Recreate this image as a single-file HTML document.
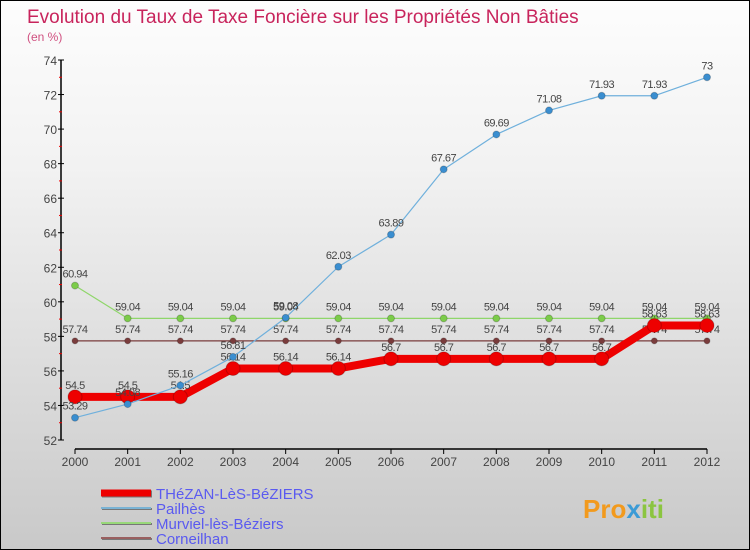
<!DOCTYPE html>
<html><head><meta charset="utf-8"><style>
body{margin:0;}
#c{position:relative;width:748px;height:548px;border:1px solid #000;background:linear-gradient(#fdfdfd,#f2f2f2 30%,#c9c9c9);overflow:hidden;font-family:"Liberation Sans",sans-serif;}
svg text{font-family:"Liberation Sans",sans-serif;}
</style></head><body>
<div id="c">
<svg id="s" width="748" height="548" xmlns="http://www.w3.org/2000/svg">
<text x="26" y="22" font-size="19" fill="#c8245c">Evolution du Taux de Taxe Foncière sur les Propriétés Non Bâties</text>
<text x="26" y="40" font-size="12" fill="#d05080">(en %)</text>
<g id="axes"></g><g id="series"></g><g id="legend"></g>
<text x="582" y="517" font-size="26" font-weight="bold" fill="#f29a1d">Pro<tspan fill="#3b9bd6">x</tspan><tspan fill="#8bc540">iti</tspan></text>
</svg>
</div>
<script>
const years=[2000,2001,2002,2003,2004,2005,2006,2007,2008,2009,2010,2011,2012];
const yTicks=[52,54,56,58,60,62,64,66,68,70,72,74];
const thezan=[54.5,54.5,54.5,56.14,56.14,56.14,56.7,56.7,56.7,56.7,56.7,58.63,58.63];
const pailhes=[53.29,54.08,55.16,56.81,59.08,62.03,63.89,67.67,69.69,71.08,71.93,71.93,73];
const murviel=[60.94,59.04,59.04,59.04,59.04,59.04,59.04,59.04,59.04,59.04,59.04,59.04,59.04];
const corneilhan=[57.74,57.74,57.74,57.74,57.74,57.74,57.74,57.74,57.74,57.74,57.74,57.74,57.74];
const seriesNames=["THéZAN-LèS-BéZIERS","Pailhès","Murviel-lès-Béziers","Corneilhan"];
const NS="http://www.w3.org/2000/svg";
const X=i=>74+i*(632/12);
const Y=v=>439-(v-52)*(380/22);
function mk(tag,attrs,parent,text){const e=document.createElementNS(NS,tag);for(const k in attrs)e.setAttribute(k,attrs[k]);if(text!==undefined)e.textContent=text;parent.appendChild(e);return e;}
const ax=document.getElementById('axes');
let a=mk('line',{x1:60,y1:Y(74),x2:60,y2:Y(52),stroke:'#000','stroke-width':1.5},ax);

a=mk('line',{x1:X(0),y1:448,x2:X(12),y2:448,stroke:'#000','stroke-width':1.5},ax);

yTicks.forEach(v=>{mk('line',{x1:57,y1:Y(v),x2:63,y2:Y(v),stroke:'#000'},ax);
 if(v<74)mk('line',{x1:58,y1:Y(v+1),x2:61,y2:Y(v+1),stroke:'#e00'},ax);
 const t=mk('text',{x:56,y:Y(v)+5,'font-size':12,fill:'#444','text-anchor':'end'},ax,v);
 });
years.forEach((y,i)=>{mk('line',{x1:X(i),y1:448,x2:X(i),y2:453,stroke:'#000'},ax);
 const t=mk('text',{x:X(i),y:465,'font-size':12,fill:'#444','text-anchor':'middle'},ax,y);
 });
const sg=document.getElementById('series');
function draw(vals,color,w,r,dot,name){
 const g=mk('g',{},sg);
 
 mk('polyline',{points:vals.map((v,i)=>X(i)+','+Y(v)).join(' '),fill:'none',stroke:color,'stroke-width':w,'stroke-linejoin':'round'},g);
 vals.forEach((v,i)=>{const c=mk('circle',{cx:X(i),cy:Y(v),r:r,fill:dot,stroke:'rgba(0,0,0,0.2)'},g);
  
  const t=mk('text',{x:X(i),y:Y(v)-8,'font-size':11,fill:'#444','text-anchor':'middle','letter-spacing':'-0.5'},g,String(v));
  });
}
draw(corneilhan,'#7a3c3c',1.2,3,'#7a3c3c','series-corneilhan');
draw(murviel,'#8fd66a',1.2,3.5,'#7ccc4a','series-murviel');
draw(thezan,'#ee0000',8,7,'#ee0000','series-thezan');
draw(pailhes,'#6fb0dc',1.2,3.5,'#3a8ed0','series-pailhes');
const lg=document.getElementById('legend');
const lc=['#ee0000','#7ab3d4','#98d879','#9a6060'],lw=[7,2,2,2];
seriesNames.forEach((n,i)=>{const g=mk('g',{},lg);
 
 const y=492+i*15;
 mk('line',{x1:101,y1:y+1,x2:151,y2:y+1,stroke:'#777','stroke-width':lw[i]},g);
 mk('line',{x1:100,y1:y,x2:150,y2:y,stroke:lc[i],'stroke-width':lw[i]},g);
 mk('text',{x:155,y:y+6,'font-size':15,fill:'#5a5af0'},g,n);});
</script>
</body></html>
